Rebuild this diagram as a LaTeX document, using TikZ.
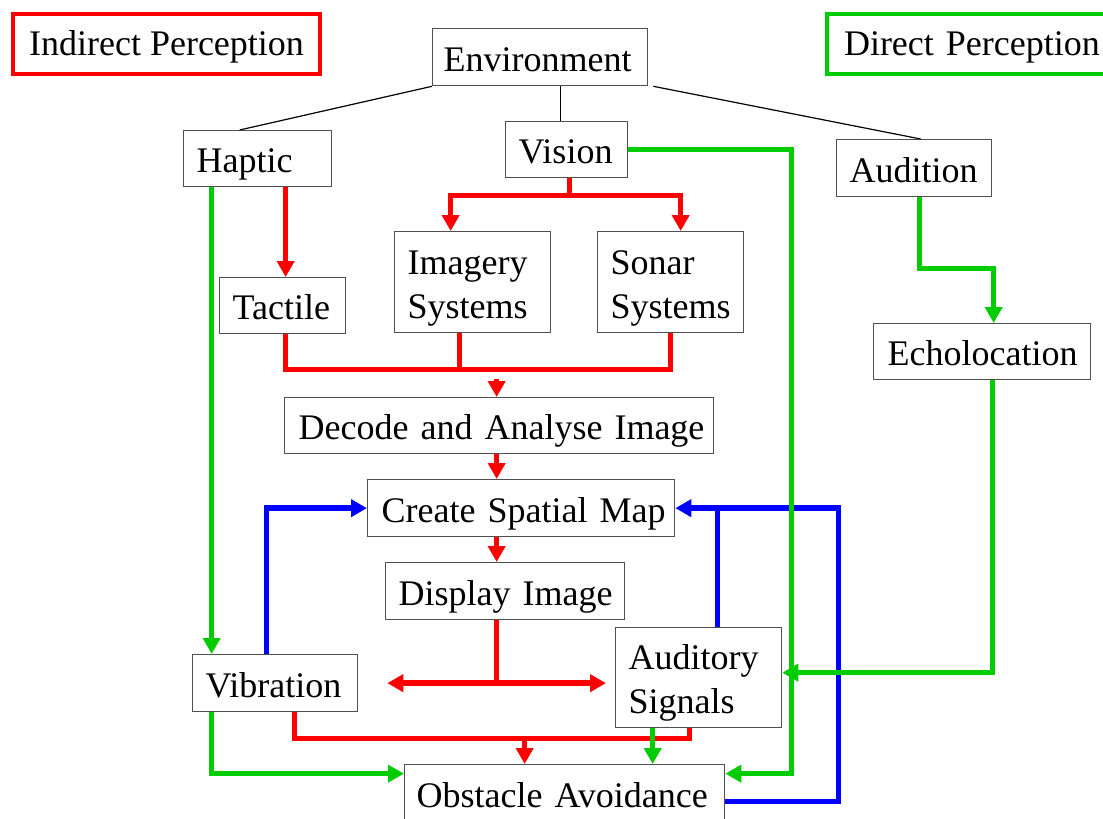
\documentclass[tikz,border=0pt]{standalone}
\usepackage{fontspec}
\setmainfont{Liberation Serif}
\usetikzlibrary{arrows.meta}
\definecolor{myred}{RGB}{255,0,0}
\definecolor{mygreen}{RGB}{0,204,0}
\definecolor{myblue}{RGB}{0,0,255}
\definecolor{boxgray}{RGB}{80,80,80}
\begin{document}
\begin{tikzpicture}[x=1pt,y=-1pt,
  >={Triangle[width=17pt,length=16pt]},
  box/.style={draw=boxgray, line width=1.3pt, fill=white, anchor=north west,
    inner xsep=13pt, inner ysep=0pt, align=left,
    font=\fontsize{36}{44}\selectfont, text height=33pt, text depth=5pt},
  twoline/.style={text depth=49pt},
  legend/.style={line width=4pt, anchor=north west, inner ysep=0pt,
    font=\fontsize{36}{44}\selectfont, text height=30pt, text depth=8pt},
  thinc/.style={draw=black, line width=1.2pt},
  redc/.style={draw=myred, line width=5.5pt},
  greenc/.style={draw=mygreen, line width=5.5pt},
  bluec/.style={draw=myblue, line width=5.5pt}]
\clip (0,0) rectangle (1103,819);
\fill[white] (0,0) rectangle (1103,819);

% legends
\node[legend, draw=myred, minimum width=307pt, minimum height=60pt, inner xsep=0pt] (ind) at (11,12) {Indirect Perception};
\node[legend, draw=mygreen, minimum height=60pt, inner xsep=17pt, text width=256pt, align=left] (dir) at (825,12) {\mbox{Direct Perception}};

% boxes
\node[box, inner xsep=11pt, text width=193pt, minimum height=57pt] (env) at (432,28) {\mbox{Environment}};
\node[box, text width=122pt, minimum height=56pt] (hap) at (183,130) {\mbox{Haptic}};
\node[box, text width=96pt, minimum height=56pt] (vis) at (505,121) {\mbox{Vision}};
\node[box, text width=129pt, minimum height=57pt] (aud) at (836,139) {\mbox{Audition}};
\node[box, text width=100pt, minimum height=56pt] (tac) at (219,277) {\mbox{Tactile}};
\node[box, twoline, text width=130pt, minimum height=101pt] (img) at (394,231) {\mbox{Imagery}\\\mbox{Systems}};
\node[box, twoline, text width=120pt, minimum height=101pt] (son) at (597,231) {\mbox{Sonar}\\\mbox{Systems}};
\node[box, inner xsep=14pt, text width=189pt, minimum height=56pt] (echo) at (873,323) {\mbox{Echolocation}};
\node[box, inner xsep=14pt, text width=401pt, minimum height=56pt] (dec) at (284,397) {\mbox{Decode and Analyse Image}};
\node[box, inner xsep=14pt, text width=279pt, minimum height=57pt] (csm) at (367,479) {\mbox{Create Spatial Map}};
\node[box, text width=213pt, minimum height=57pt] (disp) at (385,562) {\mbox{Display Image}};
\node[box, text width=139pt, minimum height=57pt] (vib) at (192,654) {\mbox{Vibration}};
\node[box, twoline, text width=140pt, minimum height=100pt] (asig) at (615,627) {\mbox{Auditory}\\\mbox{Signals}};
\node[box, inner xsep=12pt, text width=296pt, minimum height=57pt] (obs) at (404,764) {\mbox{Obstacle Avoidance}};

% thin connectors from Environment
\draw[thinc] (env.south west) -- ([xshift=-18pt]hap.north);
\draw[thinc] ([xshift=-6pt]vis.north) -- ([xshift=-6pt]vis.north |- env.south);
\draw[thinc] ([xshift=5pt]env.south east) -- ([xshift=6.5pt]aud.north);

% blue connectors
\draw[bluec,->] ([xshift=-8.5pt]vib.north) |- (csm.west);
\draw[bluec,->] ([yshift=-8.5pt]obs.east) -- ++(113,0) |- (csm.east);
\draw[bluec] ([xshift=19pt]asig.north) -- ([xshift=19pt]asig.north |- csm.east);

% red connectors
\draw[redc,->] ([xshift=28pt]hap.south) -- ([xshift=28pt]hap.south |- tac.north);
\draw[redc] ([xshift=3pt]vis.south) -- ++(0,17) coordinate (vf);
\draw[redc,->] (vf) -| ([xshift=-22pt]img.north);
\draw[redc,->] (vf) -| ([xshift=10pt]son.north);
\draw[redc] ([xshift=3pt]tac.south) -- ++(0,35) coordinate (busL) -| (son.south);
\draw[redc] ([xshift=-13pt]img.south) -- ([xshift=-13pt]img.south |- busL);
\draw[redc,->] ([xshift=-2.5pt,yshift=18pt]dec.north) -- ([xshift=-2.5pt]dec.north);
\coordinate (sp) at ([xshift=-2.5pt]dec.south);
\draw[redc,->] (sp) -- (sp |- csm.north);
\draw[redc,->] (sp |- csm.south) -- (sp |- disp.north);
\draw[redc] (sp |- disp.south) -- (sp |- vib.east);
\draw[redc,<->] ([xshift=29pt]vib.east) -- ([xshift=-9pt]asig.west |- vib.east);
\draw[redc] ([xshift=19.5pt]vib.south) -- ++(0,26) coordinate (bb) -| ([xshift=-9pt]asig.south);
\draw[redc,->] ([xshift=-40pt]obs.north |- bb) -- ([xshift=-40pt]obs.north);

% green connectors
\draw[greenc,->] (vis.east) -| ([xshift=66pt,yshift=19.5pt]obs.east) -- ([yshift=19.5pt]obs.east);
\draw[greenc,->] ([xshift=-46pt]hap.south) -- ([xshift=-46pt]hap.south |- vib.north);
\draw[greenc,->] ([xshift=-63.5pt]vib.south) |- ([yshift=19.5pt]obs.west);
\draw[greenc,->] ([xshift=5.5pt]aud.south) -- ++(0,71) -| ([xshift=11.5pt]echo.north);
\draw[greenc,->] ([xshift=10.5pt]echo.south) |- ([yshift=5pt]asig.east);
\draw[greenc,->] ([xshift=-46pt]asig.south) -- ([xshift=-46pt]asig.south |- obs.north);
\end{tikzpicture}
\end{document}
